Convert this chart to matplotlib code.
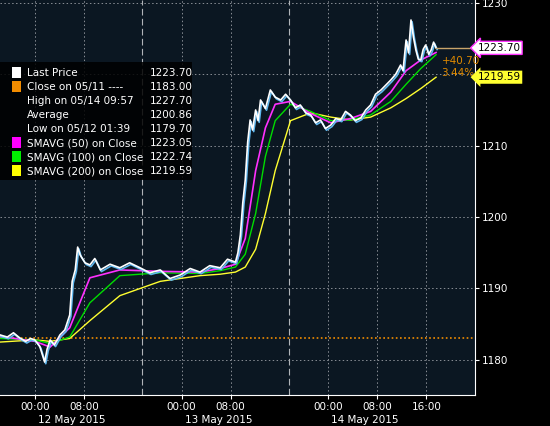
import matplotlib
matplotlib.use("Agg")
import matplotlib.pyplot as plt
import matplotlib.patheffects as pe

# hours since 12 May 2015 00:00 (session time)
t = [-5.7, -4.5, -3.5, -2.5, -1.5, -0.7, 0, 0.8, 1.6, 2.0, 2.5, 3.2, 4.1, 4.9, 5.7, 6.1, 6.6, 7.0, 7.4,
     8.2, 9.0, 9.8, 10.7, 12.3, 13.9, 15.5, 17.2, 18.8, 20.5, 22.1, 23.8, 25.4, 27.0, 28.6, 30.3,
     31.5, 32.8, 33.2, 33.6, 34.0, 34.4, 34.8, 35.2, 35.6, 36.1, 36.5, 36.9, 37.7, 38.5, 39.3, 40.2,
     41.0, 41.8, 42.6, 43.4, 44.3, 45.1, 45.9, 46.7, 47.5, 48.4, 49.2, 50.0, 50.8, 51.6, 52.4, 53.3,
     54.1, 54.9, 55.7, 56.6, 57.4, 58.2, 59.0, 59.8, 60.2, 60.7, 61.1, 61.5, 61.9, 62.3, 62.7, 63.1,
     63.5, 63.9, 64.4, 64.8, 65.2, 65.6]
close = [1183.5, 1183.2, 1183.8, 1183.1, 1182.6, 1183.0, 1182.8, 1181.9, 1179.7, 1181.5, 1182.8, 1182.1, 1183.5,
         1184.2, 1186.3, 1191.0, 1192.6, 1195.8, 1194.7, 1193.6, 1193.3, 1194.2, 1192.6, 1193.4, 1192.9, 1193.6,
         1192.9, 1192.2, 1192.6, 1191.4, 1191.9, 1192.8, 1192.3, 1193.2, 1192.9, 1194.1, 1193.7, 1195.0,
         1197.5, 1202.0, 1205.2, 1210.5, 1213.6, 1212.2, 1215.0, 1213.5, 1216.4, 1215.2, 1217.8, 1216.8, 1216.4,
         1217.2, 1216.4, 1215.3, 1215.7, 1214.6, 1214.3, 1213.2, 1213.6, 1212.4, 1212.9, 1213.8, 1213.6, 1214.8,
         1214.3, 1213.5, 1213.9, 1215.0, 1215.7, 1217.2, 1217.8, 1218.5, 1219.2, 1220.0, 1221.3, 1220.5,
         1224.8, 1223.0, 1227.6, 1225.2, 1223.4, 1222.1, 1222.0, 1223.5, 1224.1, 1222.8, 1223.4, 1224.5, 1223.7]

sma_t = [-5.7, 0, 2.5, 5.7, 9.0, 13.9, 20.5, 27.0, 30.3, 32.8, 34.4, 36.1, 37.7, 39.3, 41.8, 45.1, 48.4,
         51.6, 54.9, 58.2, 60.7, 63.1, 65.6]
sma50 = [1183.3, 1182.6, 1181.8, 1184.5, 1191.5, 1192.6, 1192.4, 1192.3, 1192.8, 1193.4, 1197.0, 1206.5,
         1212.5, 1215.8, 1216.2, 1214.5, 1213.2, 1213.8, 1214.8, 1217.5, 1220.5, 1222.0, 1223.05]
sma100 = [1183.0, 1182.8, 1182.3, 1183.2, 1188.0, 1191.8, 1192.2, 1192.1, 1192.5, 1193.0, 1194.8, 1200.5,
          1208.5, 1213.5, 1215.8, 1214.8, 1213.5, 1213.6, 1214.3, 1216.2, 1218.6, 1220.8, 1222.74]
sma200 = [1182.5, 1182.8, 1182.6, 1183.0, 1185.5, 1189.0, 1191.0, 1191.8, 1192.0, 1192.3, 1193.0, 1195.5,
          1200.5, 1206.5, 1213.5, 1214.6, 1214.0, 1213.6, 1214.0, 1215.3, 1216.6, 1218.0, 1219.59]

tick_pos = [0, 8, 24, 32, 48, 56, 64]
tick_lab = ["00:00", "08:00", "00:00", "08:00", "00:00", "08:00", "16:00"]
day_pos = [6, 30, 54]
day_lab = ["12 May 2015", "13 May 2015", "14 May 2015"]
day_sep = [17.5, 41.5]
yticks = [1180, 1190, 1200, 1210, 1220, 1230]
ytick_lab = ["1180", "1190", "1200", "1210", "", "1230"]

legend_rows = [("Last Price", "1223.70", "white"), ("Close on 05/11 ----", "1183.00", "#f28c00"),
               ("High on 05/14 09:57", "1227.70", None), ("Average", "1200.86", None),
               ("Low on 05/12 01:39", "1179.70", None), ("SMAVG (50) on Close", "1223.05", "#ff00ff"),
               ("SMAVG (100) on Close", "1222.74", "#00ee00"), ("SMAVG (200) on Close", "1219.59", "#ffff00")]

fig = plt.figure(figsize=(5.5, 4.26), dpi=100, facecolor="black")
ax = fig.add_axes([0, 0.073, 0.864, 0.927])
ax.set_facecolor("#0b1722")
ax.set_xlim(-5.7, 72)
ax.set_ylim(1175.1, 1230.4)

for y in yticks:
    ax.axhline(y, color="#8a8f96", ls=(0, (1.5, 2.5)), lw=0.7)
for x in tick_pos:
    ax.axvline(x, color="#8a8f96", ls=(0, (1.5, 2.5)), lw=0.7)
for x in day_sep:
    ax.axvline(x, color="#b0b4b8", ls=(0, (6, 3)), lw=0.8)

ax.axhline(1183.0, color="#f28c00", ls=(0, (1, 1.5)), lw=1.2)
ax.plot(sma_t, sma200, color="#ffff30", lw=1)
ax.plot(sma_t, sma100, color="#00dd00", lw=1)
ax.plot(sma_t, sma50, color="#ff30ff", lw=1.2)
ax.plot(t, close, color="white", lw=1.2,
        path_effects=[pe.SimpleLineShadow(offset=(0.8, -1.2), shadow_color="#5fb8f0", alpha=1), pe.Normal()])
ax.plot([t[-1], 72], [1223.7, 1223.7], color="#c8a46a", lw=1)
ax.text(66.5, 1222.6, "+40.70\n3.44%", color="#e08a00", fontsize=7.5, va="top", linespacing=1.3)

ax.yaxis.tick_right()
ax.set_yticks(yticks)
ax.set_yticklabels(ytick_lab, color="white", fontsize=7.5)
ax.tick_params(axis="y", length=3, color="white", pad=2)
ax.set_xticks(tick_pos)
ax.set_xticklabels(tick_lab, color="white", fontsize=7.5)
ax.tick_params(axis="x", length=3, color="white", pad=2)
for x, lab in zip(day_pos, day_lab):
    ax.text(x, -0.072, lab, transform=ax.get_xaxis_transform(), color="white", fontsize=7.5, ha="center")
for s in ["top", "left"]:
    ax.spines[s].set_visible(False)
for s in ["right", "bottom"]:
    ax.spines[s].set_color("white")

ax.text(1.005, 1223.7, "1223.70", transform=ax.get_yaxis_transform(), color="black", fontsize=7.5, va="center",
        bbox=dict(boxstyle="larrow,pad=0.15", fc="white", ec="#ff30ff", lw=1))
ax.text(1.005, 1219.59, "1219.59", transform=ax.get_yaxis_transform(), color="black", fontsize=7.5, va="center",
        bbox=dict(boxstyle="larrow,pad=0.15", fc="#ffff30", ec="none"))

# legend panel
fig.patches.append(plt.Rectangle((0, 1 - 180 / 426), 192 / 550, 118 / 426, transform=fig.transFigure,
                                 fc="black", alpha=0.85, ec="none"))
for i, (name, val, col) in enumerate(legend_rows):
    yy = 1 - (73 + i * 14) / 426
    if col:
        fig.patches.append(plt.Rectangle((12 / 550, yy - 0.012), 9 / 550, 0.025, transform=fig.transFigure,
                                         fc=col, ec="none"))
    fig.text(27 / 550, yy, name, color="white", fontsize=7.5, va="center")
    fig.text(150 / 550, yy, val, color="white", fontsize=7.5, va="center")

fig.savefig("out.png", dpi=100, facecolor="black")
